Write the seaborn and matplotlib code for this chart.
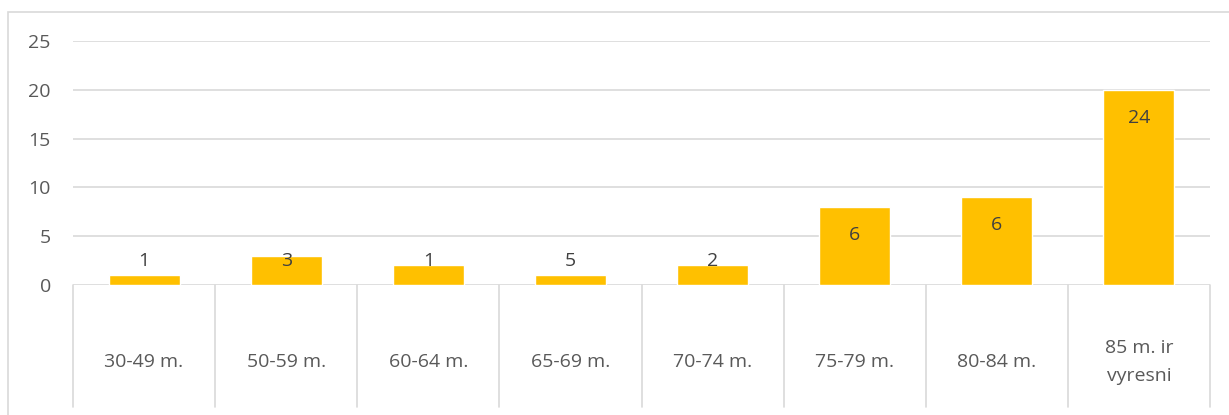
import matplotlib
matplotlib.use("Agg")
import matplotlib.pyplot as plt
import seaborn as sns
import pandas as pd
from matplotlib.patches import Rectangle

categories = ["30-49 m.", "50-59 m.", "60-64 m.", "65-69 m.", "70-74 m.",
              "75-79 m.", "80-84 m.", "85 m. ir\nvyresni"]
bar_values = [1, 3, 2, 1, 2, 8, 9, 20]
label_values = [1, 3, 1, 5, 2, 6, 6, 24]
yticks = [0, 5, 10, 15, 20, 25]

sns.set_theme(style="white")
plt.rcParams['font.family'] = ['Open Sans', 'DejaVu Sans']
TXT = "#595959"
GRID = "#d9d9d9"
FS = 14

W, H = 1229, 415
fig = plt.figure(figsize=(W / 100, H / 100), dpi=100)
x0, x1 = 73, 1210
y_top, y_zero = 41, 285
ax = fig.add_axes([x0 / W, 1 - y_zero / H, (x1 - x0) / W, (y_zero - y_top) / H])

df = pd.DataFrame({"cat": categories, "val": bar_values})
sns.barplot(data=df, x="cat", y="val", color="#FFC000", width=0.5,
            saturation=1, ax=ax, zorder=3)

ax.set_ylim(0, 25)
ax.set_xlim(-0.5, len(categories) - 0.5)
ax.set_yticks(yticks)
ax.set_yticklabels([str(t) for t in yticks], color=TXT, fontsize=FS)
ax.tick_params(axis="y", length=0, pad=16)
ax.set_xticks([])
ax.set_xlabel("")
ax.set_ylabel("")
for s in ax.spines.values():
    s.set_visible(False)
for t in yticks:
    ax.axhline(t, color=GRID, lw=1.2, zorder=1)

# data labels
for i, (h, lab) in enumerate(zip(bar_values, label_values)):
    pos = max(h - 2.9, 2.5)
    ax.text(i, pos, str(lab), ha="center", va="center", color="#404040",
            fontsize=FS, zorder=5)

# category separators & labels below the axis
px_per_unit = (y_zero - y_top) / 25.0
sep_bottom = -(407 - y_zero) / px_per_unit
lab_y = -(362 - y_zero) / px_per_unit
for k in range(len(categories) + 1):
    ax.plot([k - 0.5, k - 0.5], [0, sep_bottom], color=GRID, lw=1.2,
            clip_on=False, zorder=1)
for i, c in enumerate(categories):
    ax.text(i, lab_y, c, ha="center", va="center", color=TXT, fontsize=FS,
            clip_on=False, linespacing=1.75)

# outer chart border
fig.patches.append(Rectangle((8 / W, -0.1), 1.2, 1 - 12 / H + 0.1,
                             transform=fig.transFigure, fill=False,
                             edgecolor=GRID, lw=1.2))

fig.savefig("out.png", dpi=100)
